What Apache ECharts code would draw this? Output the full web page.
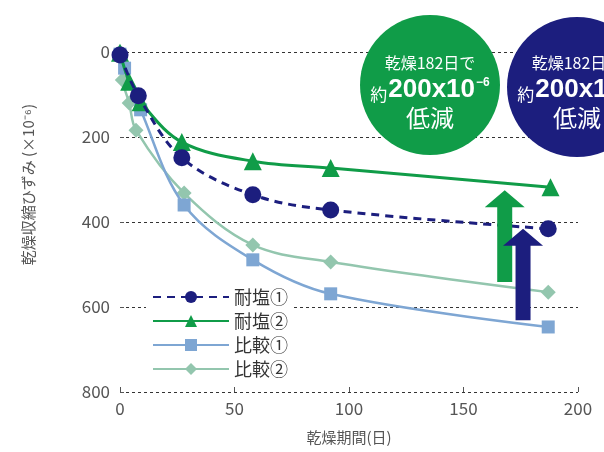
<!DOCTYPE html>
<html>
<head>
<meta charset="utf-8">
<script src="https://cdn.jsdelivr.net/npm/echarts@6/dist/echarts.min.js"></script>
<style>html,body{margin:0;padding:0;background:#fff;}#c{width:604px;height:452px;}</style>
</head>
<body>
<div id="c"></div>
<script>
// ---- data ----
var seriesNames = ['耐塩①', '耐塩②', '比較①', '比較②'];
var taien1Days = [0, 8, 27, 58, 92, 187];
var taien1Vals = [7, 103, 249, 336, 372, 416];
var taien2Days = [0, 4, 9, 27, 58, 92, 188];
var taien2Vals = [2, 70, 118, 212, 257, 273, 318];
var hikaku1Days = [0, 2, 9, 28, 58, 92, 187];
var hikaku1Vals = [5, 38, 136, 360, 489, 569, 647];
var hikaku2Days = [0, 1, 4, 7, 28, 58, 92, 187];
var hikaku2Vals = [0, 66, 120, 184, 332, 454, 494, 565];
var xTicks = [0, 50, 100, 150, 200];
var yTicks = [0, 200, 400, 600, 800];
// reduction arrows: [day, from, to]
var arrowDays = [168, 176];
var arrowFrom = [541, 631];
var arrowTo = [325, 416];

function pairs(xs, ys) { return xs.map(function (x, i) { return [x, ys[i]]; }); }

var NAVY = '#1c1e7e', GREEN = '#109c48', LBLUE = '#7ea6d3', LTEAL = '#93c6ae';
var FONT = '"Noto Sans CJK JP", sans-serif';

var chart = echarts.init(document.getElementById('c'));

var arrowColors = [GREEN, NAVY];

chart.setOption({
  animation: false,
  backgroundColor: '#fff',
  grid: { left: 120, right: 26, top: 52, bottom: 60, containLabel: false },
  xAxis: {
    type: 'value', position: 'bottom', min: xTicks[0], max: xTicks[xTicks.length - 1], interval: 50,
    name: '乾燥期間(日)', nameLocation: 'middle', nameGap: 38,
    nameTextStyle: { fontFamily: FONT, fontSize: 15, color: '#555' },
    axisLine: { show: false, onZero: false },
    axisTick: { show: true, inside: true, length: 5, lineStyle: { color: '#555' } },
    axisLabel: { fontFamily: FONT, fontSize: 17, color: '#555', margin: 8 },
    splitLine: { show: false }
  },
  yAxis: {
    type: 'value', inverse: true, min: yTicks[0], max: yTicks[yTicks.length - 1], interval: 200,
    axisLine: { show: false },
    axisTick: { show: true, inside: true, length: 4, lineStyle: { color: '#555' } },
    axisLabel: { fontFamily: FONT, fontSize: 17, color: '#555', margin: 10 },
    splitLine: { show: true, lineStyle: { color: '#333', type: [3, 3], width: 1 } }
  },
  legend: {
    orient: 'vertical', left: 146, top: 285,
    itemWidth: 76, itemHeight: 15, itemGap: 6,
    backgroundColor: '#fff', padding: [3, 6],
    textStyle: { fontFamily: FONT, fontSize: 18, color: '#333' },
    data: seriesNames
  },
  series: [
    {
      name: seriesNames[3], type: 'line', smooth: 0.35, z: 2,
      data: pairs(hikaku2Days, hikaku2Vals),
      symbol: 'diamond', symbolSize: 15,
      lineStyle: { color: LTEAL, width: 2.5 }, itemStyle: { color: LTEAL }
    },
    {
      name: seriesNames[2], type: 'line', smooth: 0.35, z: 3,
      data: pairs(hikaku1Days, hikaku1Vals),
      symbol: 'rect', symbolSize: 13,
      lineStyle: { color: LBLUE, width: 2.5 }, itemStyle: { color: LBLUE }
    },
    {
      name: seriesNames[1], type: 'line', smooth: 0.35, z: 4,
      data: pairs(taien2Days, taien2Vals),
      symbol: 'triangle', symbolSize: 18,
      lineStyle: { color: GREEN, width: 3 }, itemStyle: { color: GREEN }
    },
    {
      name: seriesNames[0], type: 'line', smooth: 0.35, z: 5,
      data: pairs(taien1Days, taien1Vals),
      symbol: 'circle', symbolSize: 17,
      lineStyle: { color: NAVY, width: 3, type: [8, 6] }, itemStyle: { color: NAVY }
    },
    {
      type: 'custom', z: 10, silent: true,
      data: arrowDays.map(function (d, i) { return [d, arrowFrom[i], arrowTo[i], i]; }),
      renderItem: function (params, api) {
        var base = api.coord([api.value(0), api.value(1)]);
        var tip = api.coord([api.value(0), api.value(2)]);
        var cx = base[0], yb = base[1], yt = tip[1];
        var sw = 7.5, hw = 20, hh = 17;
        return {
          type: 'polygon',
          shape: { points: [
            [cx - sw, yb], [cx - sw, yt + hh], [cx - hw, yt + hh], [cx, yt],
            [cx + hw, yt + hh], [cx + sw, yt + hh], [cx + sw, yb]
          ] },
          style: { fill: arrowColors[api.value(3)] }
        };
      }
    }
  ],
  graphic: [
    {
      type: 'text', left: 21, top: 104, rotation: Math.PI / 2,
      style: { text: '乾燥収縮ひずみ (×10⁻⁶)', fontFamily: FONT, fontSize: 15, fill: '#555' }
    },
    { type: 'circle', shape: { cx: 430, cy: 85, r: 70 }, style: { fill: GREEN }, z: 20 },
    { type: 'circle', shape: { cx: 577, cy: 87, r: 70 }, style: { fill: NAVY }, z: 20 },
    { type: 'text', x: 430, y: 63, z: 21, style: { text: '乾燥182日で', align: 'center', verticalAlign: 'middle', fontFamily: FONT, fontSize: 16, fill: '#fff' } },
    { type: 'text', x: 430, y: 90, z: 21, style: {
      text: '{a|約}{b|200x10}{c|−6}', align: 'center', verticalAlign: 'middle',
      rich: {
        a: { fontFamily: FONT, fontSize: 17, fill: '#fff', verticalAlign: 'bottom', padding: [0, 1, 0, 0] },
        b: { fontFamily: 'Liberation Sans, Arial', fontWeight: 'bold', fontSize: 26, fill: '#fff' },
        c: { fontFamily: 'Liberation Sans, Arial', fontWeight: 'bold', fontSize: 12, fill: '#fff', verticalAlign: 'top', padding: [0, 0, 12, 1] }
      } } },
    { type: 'text', x: 430, y: 118, z: 21, style: { text: '低減', align: 'center', verticalAlign: 'middle', fontFamily: FONT, fontSize: 24, fill: '#fff' } },
    { type: 'text', x: 577, y: 63, z: 21, style: { text: '乾燥182日で', align: 'center', verticalAlign: 'middle', fontFamily: FONT, fontSize: 16, fill: '#fff' } },
    { type: 'text', x: 577, y: 90, z: 21, style: {
      text: '{a|約}{b|200x10}{c|−6}', align: 'center', verticalAlign: 'middle',
      rich: {
        a: { fontFamily: FONT, fontSize: 17, fill: '#fff', verticalAlign: 'bottom', padding: [0, 1, 0, 0] },
        b: { fontFamily: 'Liberation Sans, Arial', fontWeight: 'bold', fontSize: 26, fill: '#fff' },
        c: { fontFamily: 'Liberation Sans, Arial', fontWeight: 'bold', fontSize: 12, fill: '#fff', verticalAlign: 'top', padding: [0, 0, 12, 1] }
      } } },
    { type: 'text', x: 577, y: 118, z: 21, style: { text: '低減', align: 'center', verticalAlign: 'middle', fontFamily: FONT, fontSize: 24, fill: '#fff' } }
  ]
});
</script>
</body>
</html>
